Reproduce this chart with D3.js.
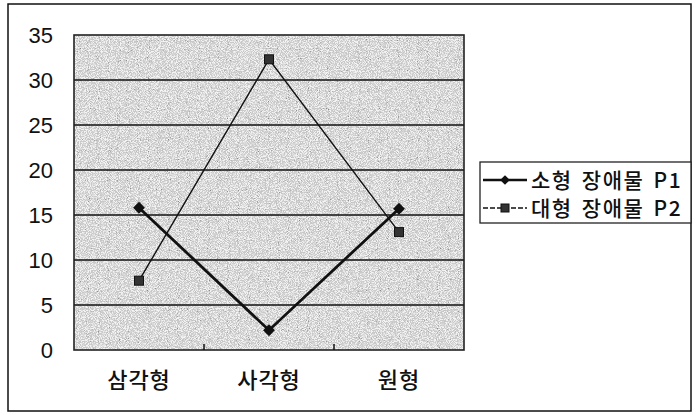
<!DOCTYPE html>
<html>
<head>
<meta charset="utf-8">
<script src="https://cdn.jsdelivr.net/npm/d3@7"></script>
<style>
  html, body { margin: 0; padding: 0; background: #fff; }
  svg { display: block; }
</style>
</head>
<body>
<svg id="chart" width="693" height="414"></svg>
<script>
// chart data
const categories = ["삼각형", "사각형", "원형"];
const seriesNames = ["소형 장애물 P1", "대형 장애물 P2"];
const p1Values = [15.8, 2.2, 15.7];
const p2Values = [7.7, 32.3, 13.1];
const yTicks = [0, 5, 10, 15, 20, 25, 30, 35];

const svg = d3.select("#chart");
const margin = { top: 35, left: 74, right: 229, bottom: 64 };
const width = 693, height = 414;
const innerWidth = width - margin.left - margin.right;
const innerHeight = height - margin.top - margin.bottom;

// speckled grey texture like the scanned plot area
const defs = svg.append("defs");
const filt = defs.append("filter").attr("id", "speckle")
  .attr("x", 0).attr("y", 0).attr("width", "100%").attr("height", "100%");
filt.append("feTurbulence")
  .attr("type", "fractalNoise")
  .attr("baseFrequency", 1.1)
  .attr("numOctaves", 1)
  .attr("seed", 7)
  .attr("result", "noise");
filt.append("feColorMatrix")
  .attr("in", "noise")
  .attr("type", "matrix")
  .attr("values", "0 0 0 0 1  0 0 0 0 1  0 0 0 0 1  6 0 0 0 -2.6")
  .attr("result", "white");
filt.append("feColorMatrix")
  .attr("in", "noise")
  .attr("type", "matrix")
  .attr("values", "0 0 0 0 0.2  0 0 0 0 0.2  0 0 0 0 0.2  0 -6 0 0 2.2")
  .attr("result", "dark");
filt.append("feMerge").selectAll("feMergeNode")
  .data(["white", "dark"]).join("feMergeNode").attr("in", d => d);

// outer frame
svg.append("rect")
  .attr("x", 8).attr("y", 4)
  .attr("width", 683).attr("height", 407)
  .attr("fill", "#fff")
  .attr("stroke", "#111").attr("stroke-width", 1.5);

const g = svg.append("g").attr("transform", `translate(${margin.left},${margin.top})`);

const x = d3.scaleBand().domain(categories).range([0, innerWidth]);
const y = d3.scaleLinear().domain([0, 35]).range([innerHeight, 0]);

// plot background
g.append("rect")
  .attr("width", innerWidth).attr("height", innerHeight)
  .attr("fill", "#c8c8c8");
g.append("rect")
  .attr("width", innerWidth).attr("height", innerHeight)
  .attr("fill", "#fff")
  .attr("filter", "url(#speckle)")
  .attr("opacity", 0.8);

// gridlines
g.append("g")
  .selectAll("line")
  .data(yTicks.filter(d => d > 0 && d < 35))
  .join("line")
  .attr("x1", 0).attr("x2", innerWidth)
  .attr("y1", d => y(d)).attr("y2", d => y(d))
  .attr("stroke", "#111").attr("stroke-width", 1.6);

// plot border
g.append("rect")
  .attr("width", innerWidth).attr("height", innerHeight)
  .attr("fill", "none")
  .attr("stroke", "#222").attr("stroke-width", 1.6);

// category separator ticks along the bottom
g.append("g")
  .selectAll("line")
  .data(categories.slice(1))
  .join("line")
  .attr("x1", d => x(d)).attr("x2", d => x(d))
  .attr("y1", innerHeight).attr("y2", innerHeight - 6)
  .attr("stroke", "#111").attr("stroke-width", 1.5);

// y axis labels
const yAxis = d3.axisLeft(y).tickValues(yTicks).tickSize(0).tickPadding(21);
g.append("g").call(yAxis)
  .call(a => a.select(".domain").remove())
  .selectAll("text")
  .attr("font-family", "'Liberation Sans', Arial, sans-serif")
  .attr("font-size", 22)
  .attr("fill", "#111");

// x axis labels
const xAxis = d3.axisBottom(x).tickSize(0).tickPadding(22);
g.append("g").attr("transform", `translate(0,${innerHeight})`).call(xAxis)
  .call(a => a.select(".domain").remove())
  .selectAll("text")
  .attr("font-family", "'Noto Sans CJK KR', sans-serif")
  .attr("font-size", 22)
  .attr("font-weight", 500)
  .attr("letter-spacing", 1)
  .attr("fill", "#111");

const cx = d => x(d) + x.bandwidth() / 2;
const line = d3.line().x(d => cx(d.cat)).y(d => y(d.v));

const p1 = categories.map((cat, i) => ({ cat, v: p1Values[i] }));
const p2 = categories.map((cat, i) => ({ cat, v: p2Values[i] }));

// series P2 (thin line, square markers)
g.append("path").datum(p2)
  .attr("d", line).attr("fill", "none")
  .attr("stroke", "#111").attr("stroke-width", 1.4);
g.append("g").selectAll("rect").data(p2).join("rect")
  .attr("x", d => cx(d.cat) - 4.5).attr("y", d => y(d.v) - 4.5)
  .attr("width", 9).attr("height", 9)
  .attr("fill", "#333").attr("stroke", "#111").attr("stroke-width", 1);

// series P1 (thick line, diamond markers)
g.append("path").datum(p1)
  .attr("d", line).attr("fill", "none")
  .attr("stroke", "#111").attr("stroke-width", 2.8);
const diamond = d3.symbol().type(d3.symbolDiamond2).size(90);
g.append("g").selectAll("path").data(p1).join("path")
  .attr("transform", d => `translate(${cx(d.cat)},${y(d.v)})`)
  .attr("d", diamond).attr("fill", "#111");

// legend
const legend = svg.append("g").attr("transform", "translate(480,162)");
legend.append("rect")
  .attr("width", 211).attr("height", 61)
  .attr("fill", "#fff").attr("stroke", "#222").attr("stroke-width", 1.3);

const rows = legend.selectAll("g.row").data(seriesNames).join("g")
  .attr("class", "row")
  .attr("transform", (d, i) => `translate(0,${18 + i * 28})`);

rows.append("line")
  .attr("x1", 3).attr("x2", 47).attr("y1", 0).attr("y2", 0)
  .attr("stroke", "#111")
  .attr("stroke-width", (d, i) => i === 0 ? 2.4 : 1.3)
  .attr("stroke-dasharray", (d, i) => i === 0 ? null : "5,2");
rows.filter((d, i) => i === 0).append("path")
  .attr("transform", "translate(25,0)")
  .attr("d", d3.symbol().type(d3.symbolDiamond2).size(60))
  .attr("fill", "#111");
rows.filter((d, i) => i === 1).append("rect")
  .attr("x", 21).attr("y", -4).attr("width", 8).attr("height", 8)
  .attr("fill", "#333").attr("stroke", "#111");
rows.append("text")
  .attr("x", 51).attr("dy", "0.36em")
  .attr("font-family", "'Noto Sans CJK KR', sans-serif")
  .attr("font-size", 21)
  .attr("font-weight", 500)
  .attr("letter-spacing", 1.5)
  .attr("word-spacing", 3)
  .attr("fill", "#111")
  .text(d => d);
</script>
</body>
</html>
